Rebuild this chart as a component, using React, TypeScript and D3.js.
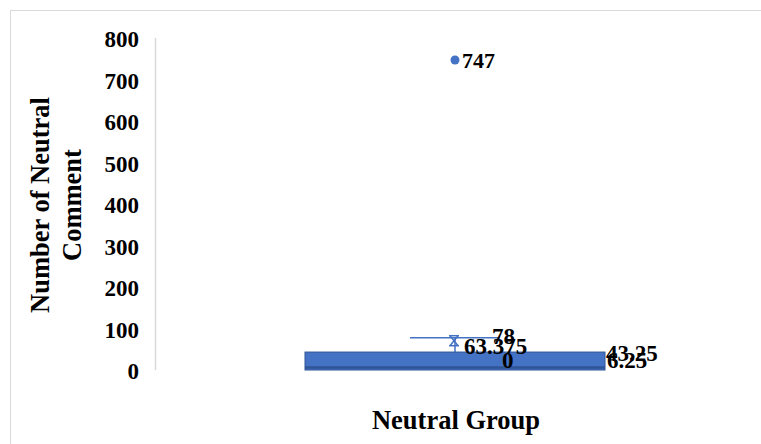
import React from "react";
import * as d3 from "d3";

// Box-and-whisker summary for the neutral comment counts
const categories = ["Neutral Group"];
const minValues = [0];
const q1Values = [0];
const medianValues = [6.25];
const q3Values = [43.25];
const maxValues = [78];
const meanValues = [63.375];
const outlierValues = [[747]];
const yTicks = [0, 100, 200, 300, 400, 500, 600, 700, 800];

const W = 761;
const H = 444;
const FONT = "'Liberation Serif', 'Times New Roman', serif";
const BLUE = "#4472C4";
const DARK_BLUE = "#2F5597";

export default function App() {
  const y = d3.scaleLinear().domain([0, 800]).range([370, 38]);
  const x = d3.scaleBand<string>().domain(categories).range([155, 755]);
  const bw = x.bandwidth();

  return (
    <svg
      width={W}
      height={H}
      style={{ position: "absolute", left: 0, top: 0, background: "#fff" }}
      fontFamily={FONT}
      fontWeight="bold"
    >
      <rect x={10.5} y={10.5} width={W} height={H} fill="#fff" stroke="#d9d9d9" strokeWidth={1} />

      {/* value axis */}
      <line x1={155.5} x2={155.5} y1={y(800)} y2={y(0)} stroke="#d9d9d9" strokeWidth={1.5} />
      {yTicks.map((t) => (
        <text key={t} x={139} y={y(t) + 1} dy="0.35em" textAnchor="end" fontSize={23} fill="#000">
          {t}
        </text>
      ))}
      <text transform={`translate(49, ${y(400) + 1}) rotate(-90)`} textAnchor="middle" fontSize={26.5} fill="#000">
        <tspan x={0} dy={0}>Number of Neutral</tspan>
        <tspan x={0} dy={32}>Comment</tspan>
      </text>

      {categories.map((c, i) => {
        const cx = (x(c) ?? 0) + bw / 2;
        const boxW = bw * 0.5;
        const capW = bw * 0.15;
        const my = y(meanValues[i]) - 3;
        return (
          <g key={c}>
            {/* whiskers */}
            <line x1={cx} x2={cx} y1={y(q3Values[i])} y2={y(maxValues[i])} stroke={BLUE} strokeWidth={1.5} />
            <line x1={cx - capW / 2} x2={cx + capW / 2} y1={y(maxValues[i])} y2={y(maxValues[i])} stroke={BLUE} strokeWidth={1.5} />
            <line x1={cx} x2={cx} y1={y(q1Values[i])} y2={y(minValues[i])} stroke={BLUE} strokeWidth={1.5} />
            {/* box */}
            <rect
              x={cx - boxW / 2}
              y={y(q3Values[i])}
              width={boxW}
              height={y(q1Values[i]) - y(q3Values[i])}
              fill={BLUE}
              stroke={DARK_BLUE}
              strokeWidth={1}
            />
            <line
              x1={cx - boxW / 2}
              x2={cx + boxW / 2}
              y1={y(medianValues[i])}
              y2={y(medianValues[i])}
              stroke={DARK_BLUE}
              strokeWidth={2.5}
            />
            {/* mean marker */}
            <g stroke={BLUE} strokeWidth={1.5}>
              <line x1={cx - 5} x2={cx + 3} y1={my - 5} y2={my + 5} />
              <line x1={cx + 3} x2={cx - 5} y1={my - 5} y2={my + 5} />
              <line x1={cx - 6} x2={cx + 4} y1={my - 5} y2={my - 5} />
              <line x1={cx - 6} x2={cx + 4} y1={my + 5} y2={my + 5} />
            </g>
            {/* outliers */}
            {outlierValues[i].map((o) => (
              <g key={o}>
                <circle cx={cx} cy={y(o)} r={4.5} fill={BLUE} />
                <text x={cx + 7} y={y(o)} dy="0.35em" fontSize={22} fill="#000">{o}</text>
              </g>
            ))}
            {/* value labels */}
            <text x={cx + 9} y={y(meanValues[i]) + 2} dy="0.35em" fontSize={23} fill="#000">{meanValues[i]}</text>
            <text x={cx + 37} y={y(maxValues[i]) - 2} dy="0.35em" fontSize={23} fill="#000">{maxValues[i]}</text>
            <text x={cx + 47} y={y(minValues[i]) - 10} dy="0.35em" fontSize={23} fill="#000">{minValues[i]}</text>
            <text x={cx + boxW / 2 + 1} y={y(q3Values[i]) + 1} dy="0.35em" fontSize={23} fill="#000">{q3Values[i]}</text>
            <text x={cx + boxW / 2 + 2} y={y(medianValues[i]) - 7} dy="0.35em" fontSize={23} fill="#000">{medianValues[i]}</text>
            {/* category label */}
            <text x={cx + 1} y={429} textAnchor="middle" fontSize={26.5} fill="#000">{c}</text>
          </g>
        );
      })}
    </svg>
  );
}
